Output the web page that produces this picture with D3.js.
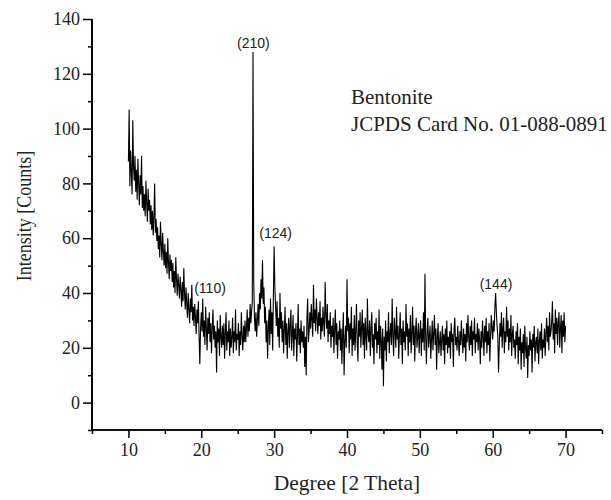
<!DOCTYPE html>
<html>
<head>
<meta charset="utf-8">
<script src="https://cdn.jsdelivr.net/npm/d3@7"></script>
<style>
  body { margin: 0; background: #fff; }
  svg { display: block; }
  .serif { font-family: "Liberation Serif", "Times New Roman", serif; }
  .sans { font-family: "Liberation Sans", Arial, sans-serif; }
</style>
</head>
<body>
<svg id="chart" width="611" height="500"></svg>
<script>
// ---- data (intensity, 2θ from 10.0 to 70.0 in 0.1° steps) ----
const startDeg = 10.0;
const stepDeg = 0.1;
const intensity = [
  88,107,79,92,84,76,103,86,81,90,
  77,85,74,89,80,72,83,76,90,71,
  79,70,76,68,81,73,66,78,70,74,
  65,72,63,70,61,68,80,62,67,59,
  64,56,61,53,66,58,52,62,55,50,
  58,49,55,47,60,51,45,54,48,52,
  44,51,42,48,40,53,45,39,47,43,
  38,46,41,35,44,37,49,40,34,42,
  36,31,40,34,29,38,33,43,30,35,
  28,36,31,25,34,29,37,24,14,27,
  33,26,38,24,30,21,35,27,19,31,
  25,33,22,29,18,27,34,23,28,20,
  26,11,30,22,27,17,32,24,20,28,
  21,29,16,25,33,19,26,22,30,17,
  27,20,24,31,18,26,22,34,19,25,
  23,29,17,26,21,33,24,19,28,22,
  30,22,27,34,24,31,26,36,29,33,
  37,128,44,31,26,33,24,30,36,28,
  40,34,45,38,52,36,42,29,35,22,
  30,16,27,34,21,38,25,33,19,40,
  57,42,35,28,37,24,31,20,40,27,
  33,22,30,18,27,35,21,29,16,26,
  31,20,28,34,19,25,32,17,27,23,
  29,15,24,36,21,27,18,30,22,26,
  20,28,13,24,10,31,38,22,26,33,
  27,36,30,24,43,29,34,26,38,31,
  25,33,28,37,23,31,26,35,29,24,
  44,32,27,36,22,30,25,33,20,28,
  24,31,18,27,34,21,29,16,26,23,
  30,19,27,14,25,33,10,22,28,20,
  45,26,31,18,29,23,35,17,27,21,
  32,19,26,36,22,15,30,24,33,20,
  27,34,21,29,16,31,24,19,38,25,
  22,30,17,27,33,20,25,14,29,23,
  31,18,26,21,34,16,28,23,12,27,
  6,24,19,30,15,26,22,33,18,25,
  29,21,38,24,17,31,26,20,35,23,
  28,16,25,33,21,27,14,30,22,26,
  19,36,24,29,17,27,22,32,18,25,
  35,21,28,15,26,31,20,24,29,18,
  25,30,17,27,22,33,19,47,24,14,
  26,31,20,24,28,16,23,30,19,25,
  32,21,27,12,24,29,18,22,26,17,
  23,28,19,25,14,27,21,30,18,24,
  20,26,16,29,22,25,13,27,31,21,
  24,19,28,22,17,26,21,30,23,18,
  27,20,25,15,29,22,32,24,19,28,
  21,30,17,26,23,31,18,25,22,29,
  19,27,23,14,26,20,30,24,17,28,
  22,31,18,26,21,29,15,24,32,27,
  23,30,26,35,40,33,28,24,11,21,
  29,24,33,20,27,31,18,26,22,35,
  24,30,19,27,22,32,17,25,28,20,
  23,16,26,21,29,14,24,19,27,12,
  22,18,25,13,28,20,16,24,9,21,
  17,26,19,23,11,25,20,28,15,22,
  24,18,27,14,22,26,19,29,16,23,
  20,27,17,25,31,22,28,19,33,24,
  26,30,37,23,29,18,34,25,31,21,
  29,33,20,27,32,18,30,24,33,22,
  28
];
const peakLabels = ["(110)", "(210)", "(124)", "(144)"];
const peakLabelX = [21.2, 27.15, 30.2, 60.45];
const peakLabelY = [40.0, 129.3, 60.1, 41.5];
const legendLines = ["Bentonite", "JCPDS Card No. 01-088-0891"];
const xTicks = [10, 20, 30, 40, 50, 60, 70];
const yTicks = [0, 20, 40, 60, 80, 100, 120, 140];
const xLabel = "Degree [2 Theta]";
const yLabel = "Intensity [Counts]";

const data = intensity.map((v, i) => ({ x: +(startDeg + i * stepDeg).toFixed(2), y: v }));

// ---- layout ----
const svg = d3.select("#chart");
const mLeft = 92, mRight = 602, mTop = 19, mBottom = 430;

const x = d3.scaleLinear().domain([5, 75]).range([mLeft, mRight]);
const y = d3.scaleLinear().domain([-10, 140]).range([mBottom, mTop]);

// data line
svg.append("path")
  .datum(data)
  .attr("fill", "none")
  .attr("stroke", "#000")
  .attr("stroke-width", 1.1)
  .attr("stroke-linejoin", "miter")
  .attr("d", d3.line().x(d => x(d.x)).y(d => y(d.y)));

// axes
const xMinor = d3.range(5, 76, 5).filter(v => v % 10 !== 0);
const yMinor = d3.range(-10, 141, 10).filter(v => v % 20 !== 0);

const gxMinor = svg.append("g").attr("transform", `translate(0,${mBottom})`)
  .call(d3.axisBottom(x).tickValues(xMinor).tickSize(4).tickFormat(""));
const gx = svg.append("g").attr("transform", `translate(0,${mBottom})`)
  .call(d3.axisBottom(x).tickValues(xTicks).tickSize(8).tickPadding(5).tickFormat(d3.format("d")));
const gyMinor = svg.append("g").attr("transform", `translate(${mLeft},0)`)
  .call(d3.axisLeft(y).tickValues(yMinor).tickSize(4).tickFormat(""));
const gy = svg.append("g").attr("transform", `translate(${mLeft},0)`)
  .call(d3.axisLeft(y).tickValues(yTicks).tickSize(9).tickPadding(3).tickFormat(d3.format("d")));

[gxMinor, gx].forEach(g => g.select(".domain").attr("d", `M${mLeft},0H${mRight}`));
[gyMinor, gy].forEach(g => g.select(".domain").attr("d", `M0,${mTop}V${mBottom}`));
[gxMinor, gx, gyMinor, gy].forEach(g => {
  g.selectAll(".domain").attr("stroke", "#000").attr("stroke-width", 1.7);
  g.selectAll(".tick line").attr("stroke", "#000").attr("stroke-width", 1.5);
  g.selectAll("text").attr("class", "serif").attr("font-size", 18).attr("fill", "#222");
});

// axis titles
svg.append("text").attr("class", "serif")
  .attr("x", 347).attr("y", 490)
  .attr("text-anchor", "middle").attr("font-size", 21.5).attr("fill", "#222")
  .text(xLabel);
svg.append("text").attr("class", "serif")
  .attr("transform", `translate(31,216) scale(1.12,1) rotate(-90)`)
  .attr("text-anchor", "middle").attr("font-size", 18).attr("fill", "#222")
  .text(yLabel);

// peak labels
svg.selectAll(".peak").data(peakLabels).enter().append("text")
  .attr("class", "sans peak")
  .attr("x", (d, i) => x(peakLabelX[i]))
  .attr("y", (d, i) => y(peakLabelY[i]))
  .attr("text-anchor", "middle").attr("font-size", 14).attr("fill", "#222")
  .text(d => d);

// legend text
svg.selectAll(".legend").data(legendLines).enter().append("text")
  .attr("class", "serif legend")
  .attr("x", 351).attr("y", (d, i) => 104 + i * 27)
  .attr("font-size", 21).attr("fill", "#222")
  .text(d => d);
</script>
</body>
</html>
